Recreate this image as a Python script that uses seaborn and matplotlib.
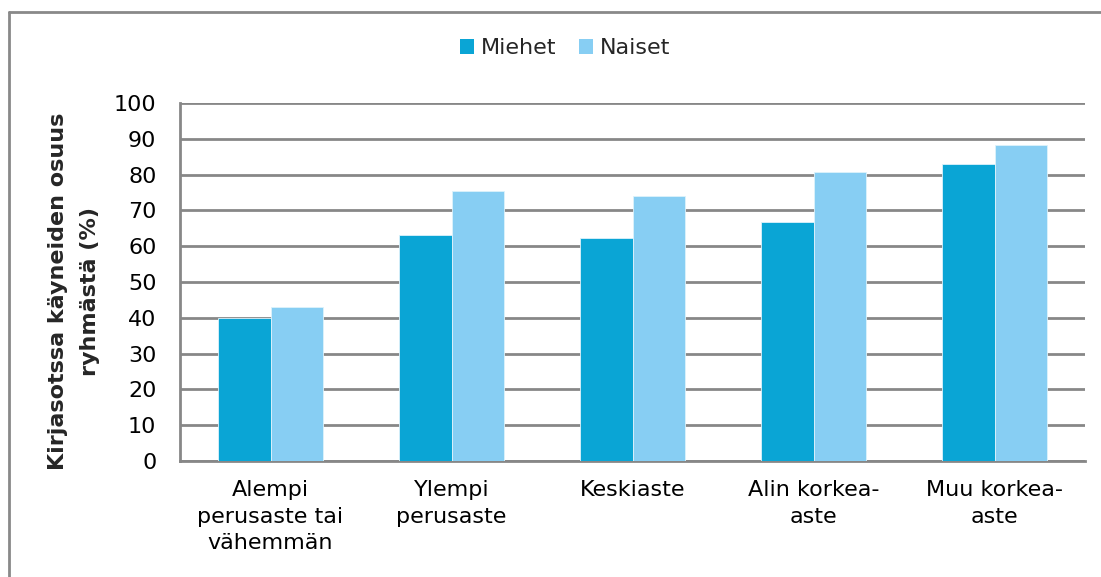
import pandas as pd
import matplotlib.pyplot as plt
import seaborn as sns
from matplotlib.patches import Patch
from matplotlib.lines import Line2D

# === data ===
ryhmat = ["Alempi\nperusaste tai\nvähemmän", "Ylempi\nperusaste", "Keskiaste",
          "Alin korkea-\naste", "Muu korkea-\naste"]
sarjat = ["Miehet", "Naiset"]
miehet = [40, 63, 62.2, 66.7, 83]
naiset = [43, 75.5, 74, 80.7, 88.2]
y_ticks = [0, 10, 20, 30, 40, 50, 60, 70, 80, 90, 100]
varit = ["#0AA5D5", "#87CEF3"]

df = pd.DataFrame({
    "ryhma": ryhmat * 2,
    "sukupuoli": ["Miehet"] * len(ryhmat) + ["Naiset"] * len(ryhmat),
    "osuus": miehet + naiset,
})

sns.set_style("white")
plt.rcParams['font.family'] = ['DejaVu Sans']

fig = plt.figure(figsize=(11.01, 5.77), dpi=100)
ax = fig.add_axes([180 / 1101, 116 / 577, 905 / 1101, 358 / 577])

sns.barplot(data=df, x="ryhma", y="osuus", hue="sukupuoli", order=ryhmat,
            hue_order=sarjat, palette=varit, saturation=1, width=0.575,
            gap=0, ax=ax, legend=False, zorder=3,
            edgecolor="#DDF2FB", linewidth=0.6)

# grid + axes
ax.set_ylim(0, 100)
ax.set_yticks(y_ticks)
ax.set_xlim(-0.5, len(ryhmat) - 0.5)
ax.yaxis.grid(True, color="#878787", linewidth=2, zorder=0)
ax.set_axisbelow(True)
for s in ["top", "right"]:
    ax.spines[s].set_visible(False)
for s in ["left", "bottom"]:
    ax.spines[s].set_color("#878787")
    ax.spines[s].set_linewidth(2)
ax.tick_params(axis="both", length=0, labelsize=16, colors="black")
ax.tick_params(axis="y", pad=17)
ax.tick_params(axis="x", pad=14)
for t in ax.get_xticklabels():
    t.set_linespacing(1.4)
ax.set_xlabel("")
ax.set_ylabel("")

fig.text(74 / 1101, 1 - 291 / 577,
         "Kirjasotssa käyneiden osuus\nryhmästä (%)",
         rotation=90, ha="center", va="center", fontsize=16,
         fontweight="bold", linespacing=1.75)

# legend
handles = [Patch(facecolor=c, edgecolor="none") for c in varit]
fig.legend(handles, sarjat, loc="center", bbox_to_anchor=(565 / 1101, 1 - 48 / 577),
           ncol=2, frameon=False, fontsize=16, handlelength=0.65,
           handleheight=0.65, handletextpad=0.3, columnspacing=1.0)

# outer chart border (top + left, rest is off the picture)
y_top = 1 - 12 / 577
x_left = 9 / 1101
fig.lines.append(Line2D([x_left, 1.0], [y_top, y_top], transform=fig.transFigure,
                        color="#898989", linewidth=2))
fig.lines.append(Line2D([x_left, x_left], [0, y_top], transform=fig.transFigure,
                        color="#898989", linewidth=2))

plt.savefig("out.png", dpi=100)
